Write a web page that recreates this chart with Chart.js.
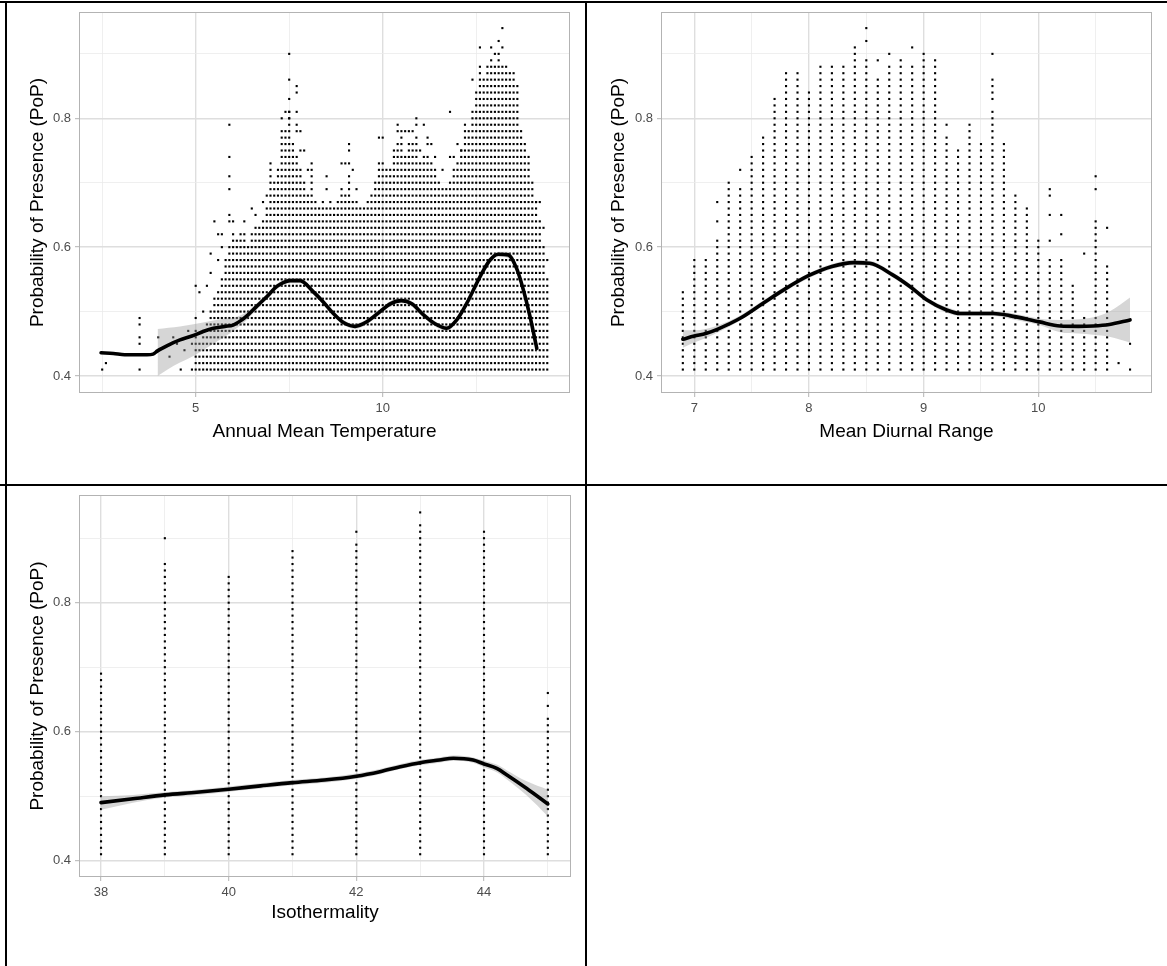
<!DOCTYPE html>
<html>
<head>
<meta charset="utf-8">
<title>Probability of Presence vs. bioclimatic variables</title>
<script src="https://cdn.jsdelivr.net/npm/chart.js@4.4.0/dist/chart.umd.min.js"></script>
<style>
  html, body { margin: 0; padding: 0; background: #fff; }
  #page { position: relative; width: 1167px; height: 966px; overflow: hidden; background: #fff; }
  #page canvas { position: absolute; }
  .rule { position: absolute; background: #000; z-index: 5; }
</style>
</head>
<body>
<div id="page">
  <canvas id="cTemp" width="585" height="484" style="left:0px;top:0px"></canvas>
  <canvas id="cDiurnal" width="577" height="484" style="left:587px;top:0px"></canvas>
  <canvas id="cIso" width="585" height="486" style="left:0px;top:480px"></canvas>

  <div class="rule" style="left:0px;top:1px;width:1167px;height:2px"></div>
  <div class="rule" style="left:0px;top:484px;width:1167px;height:2px"></div>
  <div class="rule" style="left:5px;top:1px;width:2px;height:965px"></div>
  <div class="rule" style="left:585px;top:1px;width:2px;height:965px"></div>
</div>

<script>
// ---------- shared axis settings ----------
const yTicks  = [0.4, 0.5, 0.6, 0.7, 0.8, 0.9];
const yLabels = [0.4, 0.6, 0.8];
const yTitle  = 'Probability of Presence (PoP)';

// ---------- Annual Mean Temperature ----------
const tempTicks  = [2.5, 5, 7.5, 10, 12.5];
const tempLabels = [5, 10];
// dense columns: every 0.01 step from 0.41 up to the column top
const tempColX = [5.0,5.1,5.2,5.3,5.4,5.5,5.6,5.7,5.8,5.9,6.0,6.1,6.2,6.3,6.4,6.5,6.6,6.7,6.8,6.9,
  7.0,7.1,7.2,7.3,7.4,7.5,7.6,7.7,7.8,7.9,8.0,8.1,8.2,8.3,8.4,8.5,8.6,8.7,8.8,8.9,
  9.0,9.1,9.2,9.3,9.4,9.5,9.6,9.7,9.8,9.9,10.0,10.1,10.2,10.3,10.4,10.5,10.6,10.7,10.8,10.9,
  11.0,11.1,11.2,11.3,11.4,11.5,11.6,11.7,11.8,11.9,12.0,12.1,12.2,12.3,12.4,12.5,12.6,12.7,12.8,12.9,
  13.0,13.1,13.2,13.3,13.4,13.5,13.6,13.7,13.8,13.9,14.0,14.1,14.2,14.3,14.4];
const tempColTop = [0.47,0.45,0.47,0.48,0.50,0.52,0.53,0.55,0.58,0.60,0.62,0.61,0.62,0.62,0.60,0.62,0.63,0.63,0.64,0.66,
  0.73,0.70,0.72,0.78,0.78,0.81,0.76,0.74,0.72,0.70,0.68,0.68,0.67,0.66,0.67,0.66,0.67,0.66,0.67,0.68,
  0.68,0.70,0.67,0.67,0.66,0.66,0.67,0.68,0.70,0.73,0.73,0.72,0.72,0.75,0.76,0.76,0.74,0.76,0.76,0.77,
  0.73,0.74,0.74,0.73,0.72,0.70,0.69,0.69,0.70,0.72,0.73,0.75,0.78,0.78,0.81,0.84,0.86,0.86,0.88,0.88,
  0.88,0.89,0.88,0.88,0.87,0.87,0.85,0.78,0.76,0.74,0.70,0.67,0.64,0.60,0.55];
// isolated observations outside the dense columns
const tempScatter = [
  [2.5,0.41],[2.6,0.42],
  [3.5,0.49],[3.5,0.48],[3.5,0.46],[3.5,0.45],[3.5,0.41],
  [4.0,0.46],[4.3,0.43],[4.4,0.46],[4.5,0.45],[4.6,0.41],[4.7,0.44],[4.8,0.47],[4.9,0.41],[4.9,0.45],
  [5.0,0.54],[5.0,0.49],[5.1,0.53],[5.2,0.50],[5.3,0.54],[5.4,0.56],[5.4,0.59],[5.5,0.64],[5.6,0.62],
  [5.7,0.62],[5.6,0.58],[5.7,0.60],
  [5.9,0.79],[5.9,0.74],[5.9,0.71],[5.9,0.69],[5.9,0.65],[5.9,0.64],[6.0,0.64],[6.3,0.64],[6.5,0.66],
  [6.6,0.65],[6.8,0.67],[6.9,0.68],
  [7.5,0.90],[7.5,0.86],[7.7,0.85],[7.7,0.84],[7.5,0.83],[7.4,0.81],[7.5,0.81],[7.7,0.81],[7.3,0.80],
  [7.5,0.80],[7.7,0.79],[7.7,0.78],[7.8,0.78],[7.8,0.75],[7.9,0.75],[8.0,0.72],[8.1,0.73],[8.1,0.72],
  [8.1,0.71],[8.1,0.70],[8.1,0.69],[8.5,0.71],[8.5,0.69],[8.9,0.73],[9.0,0.73],[9.1,0.73],[9.1,0.76],
  [9.1,0.75],[9.1,0.71],[9.2,0.72],[9.3,0.69],[8.9,0.69],
  [9.9,0.77],[10.0,0.77],[10.4,0.79],[10.9,0.80],[10.9,0.79],[11.1,0.79],[10.4,0.78],[10.5,0.78],
  [10.6,0.78],[10.7,0.78],[10.8,0.78],[10.5,0.77],[11.2,0.77],[11.2,0.76],[11.3,0.76],[11.8,0.81],
  [11.0,0.75],[11.4,0.74],[11.8,0.74],[11.9,0.74],[11.6,0.72],
  [13.2,0.94],[13.1,0.92],[12.6,0.91],[12.9,0.91],[13.2,0.91],[13.0,0.90],[13.1,0.90],[12.9,0.89],
  [12.6,0.88],[12.6,0.87],[12.4,0.86],[12.2,0.79],[12.0,0.76],[12.1,0.75],
  [14.1,0.67],[14.2,0.67],[14.3,0.63],[14.4,0.58]
];
// smoothed fit and its confidence band
const tempFitX = [2.47,2.8,3.1,3.4,3.7,3.86,3.98,4.27,4.58,4.9,5.2,5.47,5.78,6.0,6.23,6.4,6.63,6.9,7.17,7.34,
  7.52,7.79,8.14,8.41,8.68,8.95,9.26,9.57,9.93,10.2,10.5,10.78,11.09,11.4,11.71,11.98,12.25,12.6,12.87,13.09,
  13.36,13.58,13.76,13.94,14.12];
const tempFitY = [0.436,0.435,0.433,0.433,0.433,0.434,0.439,0.448,0.456,0.462,0.469,0.474,0.477,0.479,0.487,0.495,0.508,0.523,0.539,0.545,
  0.548,0.548,0.531,0.515,0.497,0.483,0.477,0.484,0.500,0.512,0.517,0.512,0.495,0.481,0.474,0.487,0.513,0.554,0.580,0.589,
  0.588,0.567,0.534,0.492,0.443];
const tempBandX = [3.98,4.27,4.58,4.9,5.2,5.47,5.78,6.0,6.23,6.4,6.63,6.9,7.17,7.34,
  7.52,7.79,8.14,8.41,8.68,8.95,9.26,9.57,9.93,10.2,10.5,10.78,11.09,11.4,11.71,11.98,12.25,12.6,12.87,13.09,
  13.36,13.58,13.76,13.94,14.12];
const tempBandLo = [0.400,0.411,0.421,0.430,0.440,0.450,0.461,0.470,0.480,0.489,0.503,0.519,0.535,0.541,
  0.544,0.544,0.527,0.511,0.493,0.479,0.473,0.480,0.496,0.508,0.513,0.508,0.491,0.477,0.470,0.483,0.509,0.550,0.576,0.585,
  0.583,0.561,0.527,0.483,0.431];
const tempBandHi = [0.473,0.475,0.477,0.480,0.483,0.486,0.489,0.490,0.495,0.501,0.513,0.527,0.543,0.549,
  0.552,0.552,0.535,0.519,0.501,0.487,0.481,0.488,0.504,0.516,0.521,0.516,0.499,0.485,0.478,0.491,0.517,0.558,0.584,0.593,
  0.593,0.573,0.541,0.501,0.455];

// ---------- Mean Diurnal Range ----------
const diurnalTicks  = [7, 7.5, 8, 8.5, 9, 9.5, 10, 10.5];
const diurnalLabels = [7, 8, 9, 10];
const diurnalColX = [6.9,7.0,7.1,7.2,7.3,7.4,7.5,7.6,7.7,7.8,7.9,8.0,8.1,8.2,8.3,8.4,8.5,8.6,8.7,8.8,
  8.9,9.0,9.1,9.2,9.3,9.4,9.5,9.6,9.7,9.8,9.9,10.0,10.1,10.2,10.3,10.4,10.5,10.6];
const diurnalColTop = [0.53,0.58,0.58,0.61,0.70,0.69,0.74,0.77,0.83,0.87,0.87,0.84,0.88,0.88,0.88,0.91,0.89,0.86,0.88,0.89,
  0.88,0.90,0.89,0.76,0.75,0.79,0.76,0.81,0.76,0.68,0.66,0.61,0.58,0.58,0.54,0.49,0.64,0.57];
const diurnalScatter = [
  [7.2,0.67],[7.2,0.64],[7.4,0.72],[8.5,0.94],[8.5,0.92],[8.6,0.89],[8.7,0.90],[8.9,0.91],
  [9.2,0.79],[9.2,0.77],[9.6,0.90],[9.6,0.86],[9.6,0.85],[9.6,0.84],[9.6,0.83],
  [10.1,0.69],[10.1,0.68],[10.1,0.65],[10.1,0.61],[10.2,0.65],[10.2,0.62],[10.4,0.59],
  [10.5,0.71],[10.5,0.69],[10.6,0.63],[10.7,0.42],[10.8,0.45],[10.8,0.41]
];
const diurnalFitX = [6.9,7.0,7.1,7.2,7.4,7.6,7.8,8.0,8.2,8.39,8.53,8.73,8.88,9.03,9.2,9.32,9.5,9.61,9.75,10.01,10.19,10.35,10.48,10.62,10.8];
const diurnalFitY = [0.457,0.462,0.466,0.4725,0.4896,0.513,0.536,0.556,0.570,0.576,0.575,0.557,0.539,0.518,0.5025,0.497,0.497,0.497,0.4937,0.484,0.4776,0.4770,0.4776,0.480,0.487];
const diurnalBandLo = [0.444,0.452,0.459,0.467,0.486,0.509,0.532,0.552,0.566,0.572,0.571,0.553,0.535,0.514,0.498,0.493,0.493,0.493,0.489,0.479,0.468,0.466,0.464,0.461,0.452];
const diurnalBandHi = [0.471,0.471,0.473,0.478,0.494,0.517,0.540,0.560,0.574,0.580,0.579,0.561,0.543,0.522,0.507,0.501,0.501,0.501,0.498,0.489,0.487,0.488,0.491,0.500,0.522];

// ---------- Isothermality ----------
const isoTicks  = [38, 39, 40, 41, 42, 43, 44, 45];
const isoLabels = [38, 40, 42, 44];
const isoColX   = [38, 39, 40, 41, 42, 43, 44, 45];
const isoColTop = [0.69, 0.86, 0.84, 0.88, 0.89, 0.92, 0.91, 0.62];
const isoScatter = [[39,0.90],[42,0.91],[43,0.94],[45,0.66],[45,0.64]];
const isoFitX = [38,38.5,39,39.5,40,40.5,41,41.5,42,42.37,42.69,43,43.3,43.52,43.83,44,44.2,44.36,44.67,45];
const isoFitY = [0.490,0.496,0.502,0.506,0.5107,0.516,0.521,0.525,0.531,0.538,0.5457,0.552,0.556,0.5588,0.556,0.550,0.543,0.533,0.512,0.488];
const isoBandLo = [0.479,0.490,0.498,0.502,0.507,0.512,0.517,0.521,0.527,0.534,0.542,0.548,0.552,0.555,0.552,0.545,0.537,0.526,0.501,0.469];
const isoBandHi = [0.500,0.502,0.506,0.510,0.515,0.520,0.525,0.529,0.535,0.542,0.550,0.556,0.560,0.563,0.560,0.555,0.549,0.540,0.523,0.510];

// ---------- helpers ----------
const FONT = "'Liberation Sans', Arial, Helvetica, sans-serif";

function columnDots(colX, colTop, extra) {
  const pts = [];
  colX.forEach((x, i) => {
    const top = Math.round(colTop[i] * 100);
    for (let k = 41; k <= top; k++) pts.push({ x: x, y: k / 100 });
  });
  extra.forEach(p => pts.push({ x: p[0], y: p[1] }));
  return pts;
}
const zip = (xs, ys) => xs.map((x, i) => ({ x: x, y: ys[i] }));

const panelFrame = {
  id: 'panelFrame',
  afterDatasetsDraw(chart) {
    const a = chart.chartArea, ctx = chart.ctx;
    ctx.save();
    ctx.strokeStyle = '#B3B3B3';
    ctx.lineWidth = 1;
    ctx.strokeRect(Math.round(a.left) + 0.5, Math.round(a.top) + 0.5,
                   Math.round(a.right - a.left) - 1, Math.round(a.bottom - a.top) - 1);
    ctx.restore();
  }
};

function axis(o) {
  const horiz = o.pos === 'x';
  const major = c => c.tick && o.labels.includes(c.tick.value);
  return {
    type: 'linear',
    min: o.min, max: o.max,
    afterBuildTicks: s => { s.ticks = o.ticks.map(v => ({ value: v })); },
    afterFit: s => { if (horiz) s.height = o.size; else s.width = o.size; },
    border: { display: false },
    grid: {
      drawTicks: true,
      tickLength: 4,
      tickWidth: 1,
      color: c => major(c) ? '#DEDEDE' : '#EBEBEB',
      lineWidth: c => major(c) ? 1.4 : 0.8,
      tickColor: c => major(c) ? '#B3B3B3' : 'rgba(0,0,0,0)'
    },
    ticks: {
      autoSkip: false, maxRotation: 0, minRotation: 0,
      padding: horiz ? 5 : 4,
      color: '#4D4D4D',
      font: { family: FONT, size: 13, lineHeight: 1 },
      callback: v => o.labels.includes(v) ? String(v) : ''
    },
    title: {
      display: true, text: o.title, color: '#000',
      font: { family: FONT, size: 19, lineHeight: 1.2 },
      padding: horiz ? { top: 0, bottom: o.titlePad } : { top: o.titlePad, bottom: 0 }
    }
  };
}

function panel(id, d) {
  return new Chart(document.getElementById(id), {
    type: 'scatter',
    data: {
      datasets: [
        { type: 'line', data: zip(d.fitX, d.fitY), borderColor: '#000', borderWidth: 3.6,
          pointRadius: 0, fill: false, cubicInterpolationMode: 'monotone', order: 0,
          borderCapStyle: 'round', borderJoinStyle: 'round' },
        { type: 'line', data: zip(d.bandX, d.bandHi), borderColor: 'rgba(0,0,0,0)', borderWidth: 1,
          pointRadius: 0, fill: '+1', backgroundColor: 'rgba(153,153,153,0.4)',
          cubicInterpolationMode: 'monotone', order: 1 },
        { type: 'line', data: zip(d.bandX, d.bandLo), borderColor: 'rgba(0,0,0,0)', borderWidth: 1,
          pointRadius: 0, fill: false, cubicInterpolationMode: 'monotone', order: 1 },
        { data: d.dots, pointStyle: 'rect', pointRadius: 1.5, pointBorderWidth: 0,
          pointBackgroundColor: '#000', backgroundColor: '#000', borderWidth: 0, order: 2 }
      ]
    },
    options: {
      responsive: false,
      animation: false,
      events: [],
      layout: { padding: d.pad },
      plugins: { legend: { display: false }, tooltip: { enabled: false } },
      scales: { x: axis(d.x), y: axis(d.y) }
    },
    plugins: [panelFrame]
  });
}

// ---------- draw ----------
panel('cTemp', {
  dots: columnDots(tempColX, tempColTop, tempScatter),
  fitX: tempFitX, fitY: tempFitY, bandX: tempBandX, bandLo: tempBandLo, bandHi: tempBandHi,
  pad: { left: 0, top: 12, right: 15, bottom: 0 },
  x: { pos: 'x', min: 1.88, max: 15.008, ticks: tempTicks, labels: tempLabels, size: 91,
       title: 'Annual Mean Temperature', titlePad: 41.1 },
  y: { pos: 'y', min: 0.3736, max: 0.965, ticks: yTicks, labels: yLabels, size: 79,
       title: yTitle, titlePad: 26.1 }
});

panel('cDiurnal', {
  dots: columnDots(diurnalColX, diurnalColTop, diurnalScatter),
  fitX: diurnalFitX, fitY: diurnalFitY, bandX: diurnalFitX, bandLo: diurnalBandLo, bandHi: diurnalBandHi,
  pad: { left: 0, top: 12, right: 12, bottom: 0 },
  x: { pos: 'x', min: 6.7096, max: 10.9915, ticks: diurnalTicks, labels: diurnalLabels, size: 91,
       title: 'Mean Diurnal Range', titlePad: 41.1 },
  y: { pos: 'y', min: 0.3736, max: 0.965, ticks: yTicks, labels: yLabels, size: 74,
       title: yTitle, titlePad: 20.6 }
});

panel('cIso', {
  dots: columnDots(isoColX, isoColTop, isoScatter),
  fitX: isoFitX, fitY: isoFitY, bandX: isoFitX, bandLo: isoBandLo, bandHi: isoBandHi,
  pad: { left: 0, top: 15, right: 14, bottom: 0 },
  x: { pos: 'x', min: 37.655, max: 45.363, ticks: isoTicks, labels: isoLabels, size: 89,
       title: 'Isothermality', titlePad: 42.1 },
  y: { pos: 'y', min: 0.3747, max: 0.967, ticks: yTicks, labels: yLabels, size: 79,
       title: yTitle, titlePad: 26.1 }
});
</script>
</body>
</html>
